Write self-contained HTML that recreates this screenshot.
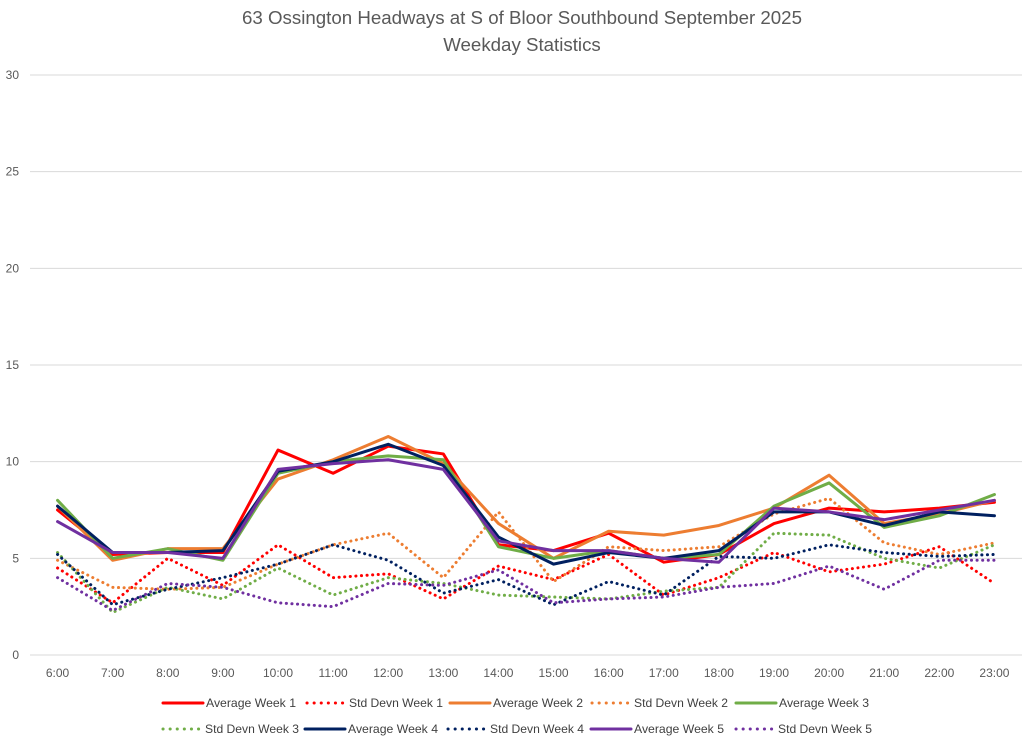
<!DOCTYPE html>
<html><head><meta charset="utf-8"><style>
body{margin:0;background:#fff;font-family:"Liberation Sans",sans-serif;}
svg text{font-family:"Liberation Sans",sans-serif;}
</style></head><body>
<svg id="chart" width="1024" height="739">
<text x="522" y="24" text-anchor="middle" font-size="18.7" fill="#595959">63 Ossington Headways at S of Bloor Southbound September 2025</text>
<text x="522" y="51" text-anchor="middle" font-size="18.7" fill="#595959">Weekday Statistics</text>
<g id="grid"></g><g id="series"></g><g id="legend"></g>
</svg>
<script>
const categories=["6:00","7:00","8:00","9:00","10:00","11:00","12:00","13:00","14:00","15:00","16:00","17:00","18:00","19:00","20:00","21:00","22:00","23:00"];
const yTicks=[0,5,10,15,20,25,30];
const avgW1=[7.5,5.2,5.3,5.3,10.6,9.4,10.8,10.4,5.7,5.4,6.3,4.8,5.2,6.8,7.6,7.4,7.6,7.9];
const sdW1=[4.5,2.7,5.0,3.6,5.7,4.0,4.2,2.9,4.6,3.9,5.2,3.1,4.0,5.3,4.3,4.7,5.6,3.7];
const avgW2=[7.7,4.9,5.5,5.5,9.1,10.1,11.3,9.9,6.8,5.0,6.4,6.2,6.7,7.6,9.3,6.8,7.3,8.0];
const sdW2=[4.9,3.5,3.4,3.5,4.7,5.7,6.3,4.0,7.4,3.8,5.6,5.4,5.6,7.3,8.1,5.8,5.2,5.8];
const avgW3=[8.0,5.0,5.5,4.9,9.4,10.0,10.3,10.1,5.6,5.0,5.4,5.0,5.2,7.7,8.9,6.6,7.2,8.3];
const sdW3=[5.3,2.2,3.5,2.9,4.5,3.1,4.0,3.7,3.1,3.0,2.9,3.3,3.5,6.3,6.2,5.0,4.5,5.7];
const avgW4=[7.7,5.3,5.3,5.4,9.5,10.0,10.9,9.8,6.1,4.7,5.3,5.0,5.4,7.4,7.4,6.7,7.4,7.2];
const sdW4=[5.2,2.6,3.4,4.0,4.7,5.7,4.9,3.2,3.9,2.6,3.8,3.1,5.1,5.0,5.7,5.3,5.1,5.2];
const avgW5=[6.9,5.3,5.3,5.0,9.6,9.9,10.1,9.6,5.9,5.4,5.4,5.0,4.8,7.6,7.4,7.0,7.5,8.0];
const sdW5=[4.0,2.3,3.7,3.5,2.7,2.5,3.7,3.6,4.4,2.7,2.9,3.0,3.5,3.7,4.6,3.4,4.9,4.9];
const NS="http://www.w3.org/2000/svg";
const x0=30,x1=1022,yBase=655,yTop=75,yMax=30;
const step=(x1-x0)/categories.length;
const xs=i=>x0+step*(i+0.5);
const ys=v=>yBase-(v/yMax)*(yBase-yTop);
function mk(t,a,p){const e=document.createElementNS(NS,t);for(const k in a)e.setAttribute(k,a[k]);p.appendChild(e);return e;}
const grid=document.getElementById('grid');
yTicks.forEach(t=>{
 const l=mk('line',{x1:x0,x2:x1,y1:ys(t),y2:ys(t),stroke:'#d9d9d9','stroke-width':1},grid);
 
 
 const tx=mk('text',{x:19,y:ys(t)+4,'text-anchor':'end','font-size':12,fill:'#595959'},grid);tx.textContent=t;
 
 
});
categories.forEach((c,i)=>{
 const tx=mk('text',{x:xs(i),y:677,'text-anchor':'middle','font-size':12,fill:'#595959'},grid);tx.textContent=c;
 
 
});
const series=[
 ["Average Week 1",avgW1,"#ff0000",false],["Std Devn Week 1",sdW1,"#ff0000",true],
 ["Average Week 2",avgW2,"#ed7d31",false],["Std Devn Week 2",sdW2,"#ed7d31",true],
 ["Average Week 3",avgW3,"#70ad47",false],["Std Devn Week 3",sdW3,"#70ad47",true],
 ["Average Week 4",avgW4,"#002060",false],["Std Devn Week 4",sdW4,"#002060",true],
 ["Average Week 5",avgW5,"#7030a0",false],["Std Devn Week 5",sdW5,"#7030a0",true]];
const sg=document.getElementById('series');
series.forEach(([name,vals,col,dot])=>{
 const p=mk('polyline',{points:vals.map((v,i)=>xs(i)+','+ys(v)).join(' '),fill:'none',stroke:col,'stroke-width':3,'stroke-linejoin':'round','stroke-linecap':'round','stroke-dasharray':dot?'0.1 5.5':'none'},sg);
 
 
});
const lg=document.getElementById('legend');
const lx=[162,306,449,591,735,162,304,447,590,735],lyRow=[703,729];
series.forEach(([name,vals,col,dot],i)=>{
 const x=lx[i],y=lyRow[Math.floor(i/5)];
 const g=mk('g',{},lg);
 
 
 mk('line',{x1:x+1,x2:dot?x+38:x+41,y1:y,y2:y,stroke:col,'stroke-width':3,'stroke-linecap':'round','stroke-dasharray':dot?'0.1 7':'none'},g);
 const t=mk('text',{x:x+(dot?43:44),y:y+4,'font-size':12,fill:'#404040',textLength:dot?94:90,lengthAdjust:'spacingAndGlyphs'},g);t.textContent=name;
});
</script>
</body></html>
